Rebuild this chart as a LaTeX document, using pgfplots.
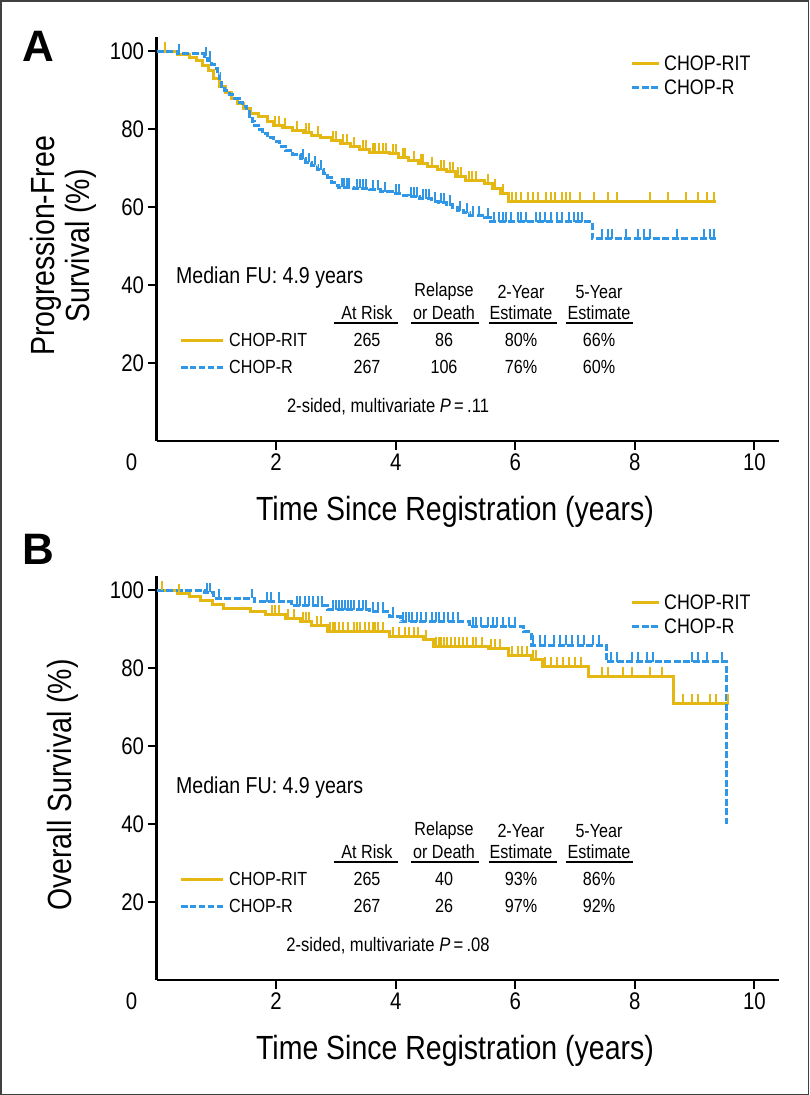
\documentclass[border=0pt]{standalone}
\usepackage{pgfplots}
\pgfplotsset{compat=1.18}
\usepackage{fontspec}
\setmainfont{Liberation Sans}[FakeStretch=0.85]
\newfontfamily\letterfont{Liberation Sans}
\definecolor{gold}{RGB}{228,183,18}
\definecolor{skyb}{RGB}{48,150,230}
\pgfdeclareplotmark{cens}{\pgfpathmoveto{\pgfpointorigin}\pgfpathlineto{\pgfpoint{0pt}{9.5pt}}\pgfusepathqstroke}
\pgfplotsset{kmaxis/.style={anchor=south west, scale only axis, width=622.5pt, height=403.65pt,
  xmin=0, xmax=10.41, ymin=0, ymax=103.5,
  axis x line*=bottom, axis y line*=left,
  axis line style={line width=2.5pt, black},
  xtick={2,4,6,8,10}, ytick={20,40,60,80,100},
  tick align=outside, major tick length=9pt, tick style={line width=2pt, black},
  /pgf/number format/assume math mode=true,
  ticklabel style={font=\fontsize{24}{28}\selectfont},
  extra x ticks={0}, extra x tick labels={0},
  extra x tick style={tick style={draw=none}, xticklabel style={xshift=-25pt}}},
  goldline/.style={gold, line width=3pt, const plot, no marks},
  blueline/.style={skyb, line width=3pt, const plot, no marks, dash pattern=on 7pt off 2.5pt},
  goldcens/.style={only marks, mark=cens, gold, mark options={line width=2pt, solid}},
  bluecens/.style={only marks, mark=cens, skyb, mark options={line width=2pt, solid}}}
\begin{document}
\begin{tikzpicture}
\useasboundingbox (0pt,0pt) rectangle (809pt,-1095pt);
% ---------------- Panel A ----------------
\begin{axis}[kmaxis, at={(156.5pt,-441pt)}]
\addplot[goldline] table {
0 100
0.35 99.2
0.55 98.4
0.67 97.6
0.77 96.3
0.87 95.0
0.96 93.0
1.06 90.8
1.15 89.3
1.25 87.8
1.35 86.5
1.45 85.2
1.57 83.9
1.70 83.1
1.85 82.0
1.96 80.9
2.10 80.3
2.28 79.7
2.45 79.0
2.60 78.4
2.75 77.7
2.92 77.1
3.08 76.2
3.25 75.4
3.40 74.7
3.57 74.1
3.89 73.7
4.05 72.8
4.21 72.0
4.38 71.1
4.53 70.3
4.70 69.6
4.85 69.0
5.00 67.9
5.17 66.8
5.49 66.0
5.62 64.7
5.75 63.4
5.88 61.5
9.35 61.5
};
\addplot[goldcens] table {
0.15 100
1.98 80.9
2.05 80.9
2.15 80.3
2.35 79.7
2.50 79.0
2.55 79.0
2.70 78.4
2.95 77.1
3.00 77.1
3.12 76.2
3.18 76.2
3.30 75.4
3.45 74.7
3.50 74.7
3.62 74.1
3.66 74.1
3.72 74.1
3.78 74.1
3.84 74.1
3.95 73.7
4.00 73.7
4.12 72.8
4.15 72.8
4.30 72.0
4.42 71.1
4.46 71.1
4.60 70.3
4.75 69.6
4.80 69.6
4.90 69.0
4.95 69.0
5.05 67.9
5.10 67.9
5.22 66.8
5.28 66.8
5.35 66.8
5.55 66.0
5.66 64.7
5.80 63.4
5.95 61.5
6.02 61.5
6.10 61.5
6.22 61.5
6.30 61.5
6.38 61.5
6.52 61.5
6.60 61.5
6.66 61.5
6.78 61.5
6.85 61.5
6.92 61.5
7.08 61.5
7.32 61.5
7.55 61.5
7.70 61.5
8.25 61.5
8.55 61.5
8.85 61.5
9.05 61.5
9.20 61.5
9.33 61.5
};
\addplot[blueline] table {
0 100
0.35 99.3
0.80 98.6
0.86 97.6
0.92 96.6
0.97 95.5
1.02 94.3
1.06 92.5
1.09 90.8
1.14 89.8
1.22 88.8
1.30 87.8
1.38 86.9
1.44 85.8
1.51 84.6
1.56 83.3
1.60 82.0
1.64 80.9
1.70 79.8
1.77 78.8
1.86 77.7
1.96 76.7
2.05 75.6
2.15 74.5
2.28 73.5
2.41 72.4
2.50 71.5
2.60 70.7
2.70 69.6
2.80 68.5
2.86 67.5
2.92 66.4
2.98 65.6
3.05 65.1
3.30 64.8
3.57 64.4
3.75 63.9
3.95 63.4
4.10 63.0
4.21 62.6
4.40 62.1
4.60 61.5
4.72 61.1
4.85 60.6
4.95 59.8
5.04 59.1
5.14 58.5
5.24 57.9
5.49 57.3
5.59 56.2
7.29 51.9
9.35 51.9
};
\addplot[bluecens] table {
0.38 99.3
0.83 98.6
0.90 97.6
2.45 72.4
2.55 71.5
2.65 70.7
2.75 69.6
3.10 65.1
3.14 65.1
3.18 65.1
3.22 65.1
3.35 64.8
3.40 64.8
3.45 64.8
3.50 64.8
3.62 64.4
3.70 64.4
3.82 63.9
4.00 63.4
4.05 63.4
4.25 62.6
4.30 62.6
4.35 62.6
4.45 62.1
4.50 62.1
4.55 62.1
4.65 61.5
4.75 61.1
4.80 61.1
4.90 60.6
5.08 59.1
5.20 58.5
5.30 57.9
5.40 57.9
5.55 57.3
5.65 56.2
5.72 56.2
5.80 56.2
5.85 56.2
5.92 56.2
6.05 56.2
6.10 56.2
6.18 56.2
6.35 56.2
6.42 56.2
6.50 56.2
6.60 56.2
6.70 56.2
6.78 56.2
6.90 56.2
6.98 56.2
7.05 56.2
7.12 56.2
7.45 51.9
7.55 51.9
7.62 51.9
7.85 51.9
8.05 51.9
8.15 51.9
8.25 51.9
8.70 51.9
9.15 51.9
9.25 51.9
9.33 51.9
};
\end{axis}
% ---------------- Panel B ----------------
\begin{axis}[kmaxis, at={(156.5pt,-980pt)}]
\addplot[goldline] table {
0 100
0.35 99.1
0.55 98.3
0.74 97.4
0.93 96.4
1.12 95.3
1.57 94.4
1.83 93.6
2.15 92.7
2.41 91.9
2.60 91.0
2.86 89.3
3.89 88.0
4.47 87.2
4.63 85.5
5.56 85.0
5.88 83.3
6.27 82.1
6.46 80.5
7.23 77.8
8.64 70.8
9.58 70.8
};
\addplot[goldcens] table {
0.10 100
0.38 99.1
1.93 93.6
1.98 93.6
2.05 93.6
2.20 92.7
2.30 92.7
2.45 91.9
2.50 91.9
2.55 91.9
2.68 91.0
2.75 91.0
2.90 89.3
2.95 89.3
2.98 89.3
3.05 89.3
3.12 89.3
3.20 89.3
3.30 89.3
3.35 89.3
3.40 89.3
3.48 89.3
3.55 89.3
3.62 89.3
3.66 89.3
3.70 89.3
3.78 89.3
3.95 88.0
4.05 88.0
4.15 88.0
4.22 88.0
4.30 88.0
4.38 88.0
4.50 87.2
4.68 85.5
4.72 85.5
4.76 85.5
4.80 85.5
4.86 85.5
4.92 85.5
5.00 85.5
5.06 85.5
5.12 85.5
5.20 85.5
5.30 85.5
5.35 85.5
5.45 85.5
5.60 85.0
5.66 85.0
5.75 85.0
5.95 83.3
6.05 83.3
6.12 83.3
6.20 83.3
6.30 82.1
6.35 82.1
6.50 80.5
6.60 80.5
6.70 80.5
6.80 80.5
6.90 80.5
7.00 80.5
7.10 80.5
7.45 77.8
7.55 77.8
7.80 77.8
7.95 77.8
8.25 77.8
8.45 77.8
8.80 70.8
8.95 70.8
9.05 70.8
9.25 70.8
9.35 70.8
9.55 70.8
};
\addplot[blueline] table {
0 100
0.80 99.4
0.96 97.9
1.64 97.0
2.25 95.9
2.86 95.0
3.57 94.4
3.89 93.3
4.08 91.9
5.24 90.6
6.14 89.3
6.27 85.9
7.52 81.6
9.54 81.6
9.54 40.0
};
\addplot[bluecens] table {
0.85 99.4
0.90 99.4
1.05 97.9
1.60 97.9
1.85 97.0
1.92 97.0
2.05 97.0
2.35 95.9
2.40 95.9
2.48 95.9
2.55 95.9
2.62 95.9
2.70 95.9
2.76 95.9
2.95 95.0
3.00 95.0
3.05 95.0
3.10 95.0
3.15 95.0
3.20 95.0
3.25 95.0
3.30 95.0
3.38 95.0
3.45 95.0
3.50 95.0
3.62 94.4
3.70 94.4
3.78 94.4
3.95 93.3
4.12 91.9
4.18 91.9
4.22 91.9
4.28 91.9
4.35 91.9
4.42 91.9
4.50 91.9
4.60 91.9
4.68 91.9
4.72 91.9
4.80 91.9
4.88 91.9
4.95 91.9
5.05 91.9
5.30 90.6
5.35 90.6
5.42 90.6
5.55 90.6
5.62 90.6
5.70 90.6
5.80 90.6
5.90 90.6
6.00 90.6
6.30 85.9
6.42 85.9
6.50 85.9
6.65 85.9
6.75 85.9
6.85 85.9
6.95 85.9
7.05 85.9
7.15 85.9
7.30 85.9
7.40 85.9
7.60 81.6
7.70 81.6
7.95 81.6
8.05 81.6
8.20 81.6
8.30 81.6
8.95 81.6
9.05 81.6
9.20 81.6
9.45 81.6
};
\end{axis}
% ---------------- Texts and decorations ----------------
\begin{scope}[x=1pt,y=1pt]
\draw[line width=1.5pt, black!75] (0.75,-0.75) rectangle (808.25,-1094.25);
\foreach \dy in {0,539}{
  \node[font=\fontsize{33.5}{35}\selectfont] at (455,-512-\dy) {Time Since Registration (years)};
  % legend top right
  \draw[gold, line width=3pt] (632,-63-\dy) -- (659,-63-\dy);
  \draw[skyb, line width=3pt, dash pattern=on 7pt off 2.5pt] (632,-87-\dy) -- (659,-87-\dy);
  \node[anchor=west, font=\fontsize{21}{24}\selectfont, inner sep=0pt] at (664,-63-\dy) {CHOP-RIT};
  \node[anchor=west, font=\fontsize{21}{24}\selectfont, inner sep=0pt] at (664,-87-\dy) {CHOP-R};
  % table header
  \node[font=\fontsize{19}{22}\selectfont] at (444,-292-\dy) {Relapse};
  \node[font=\fontsize{19}{22}\selectfont] at (521,-292-\dy) {2-Year};
  \node[font=\fontsize{19}{22}\selectfont] at (599,-292-\dy) {5-Year};
  \node[font=\fontsize{19}{22}\selectfont] at (367,-313-\dy) {At Risk};
  \node[font=\fontsize{19}{22}\selectfont] at (444,-313-\dy) {or Death};
  \node[font=\fontsize{19}{22}\selectfont] at (521,-313-\dy) {Estimate};
  \node[font=\fontsize{19}{22}\selectfont] at (599,-313-\dy) {Estimate};
  \draw[line width=2pt] (334,-323-\dy) -- (398,-323-\dy);
  \draw[line width=2pt] (411,-323-\dy) -- (479,-323-\dy);
  \draw[line width=2pt] (489,-323-\dy) -- (557,-323-\dy);
  \draw[line width=2pt] (566,-323-\dy) -- (633,-323-\dy);
  \draw[gold, line width=3pt] (181,-340-\dy) -- (223,-340-\dy);
  \draw[skyb, line width=3pt, dash pattern=on 6.5pt off 2.4pt] (181,-367-\dy) -- (223,-367-\dy);
  \node[anchor=west, inner sep=0pt, font=\fontsize{19}{22}\selectfont] at (229,-340-\dy) {CHOP-RIT};
  \node[anchor=west, inner sep=0pt, font=\fontsize{19}{22}\selectfont] at (229,-367-\dy) {CHOP-R};
}
\node[font=\letterfont\bfseries\fontsize{44}{44}\selectfont] at (38,-46) {A};
\node[font=\letterfont\bfseries\fontsize{44}{44}\selectfont] at (38,-549) {B};
% Panel A specific texts
\node[rotate=90, align=center, font=\fontsize{33.5}{35}\selectfont] at (63,-246) {Progression-Free\\Survival (\%)};
\node[anchor=west, inner sep=0pt, font=\fontsize{23}{26}\selectfont] at (176,-278) {Median FU: 4.9 years};
\foreach \x/\v in {367/265, 444/86, 521/80\%, 599/66\%} {\node[font=\fontsize{19}{22}\selectfont] at (\x,-340) {\v};}
\foreach \x/\v in {367/267, 444/106, 521/76\%, 599/60\%} {\node[font=\fontsize{19}{22}\selectfont] at (\x,-367) {\v};}
\node[font=\fontsize{19.5}{22}\selectfont] at (388,-407) {2-sided, multivariate \textit{P}\,=\,.11};
% Panel B specific texts
\node[rotate=90, font=\fontsize{33.5}{35}\selectfont] at (63,-785) {Overall Survival (\%)};
\node[anchor=west, inner sep=0pt, font=\fontsize{23}{26}\selectfont] at (176,-788) {Median FU: 4.9 years};
\foreach \x/\v in {367/265, 444/40, 521/93\%, 599/86\%} {\node[font=\fontsize{19}{22}\selectfont] at (\x,-879) {\v};}
\foreach \x/\v in {367/267, 444/26, 521/97\%, 599/92\%} {\node[font=\fontsize{19}{22}\selectfont] at (\x,-906) {\v};}
\node[font=\fontsize{19.5}{22}\selectfont] at (388,-946) {2-sided, multivariate \textit{P}\,=\,.08};
\end{scope}
\end{tikzpicture}
\end{document}
